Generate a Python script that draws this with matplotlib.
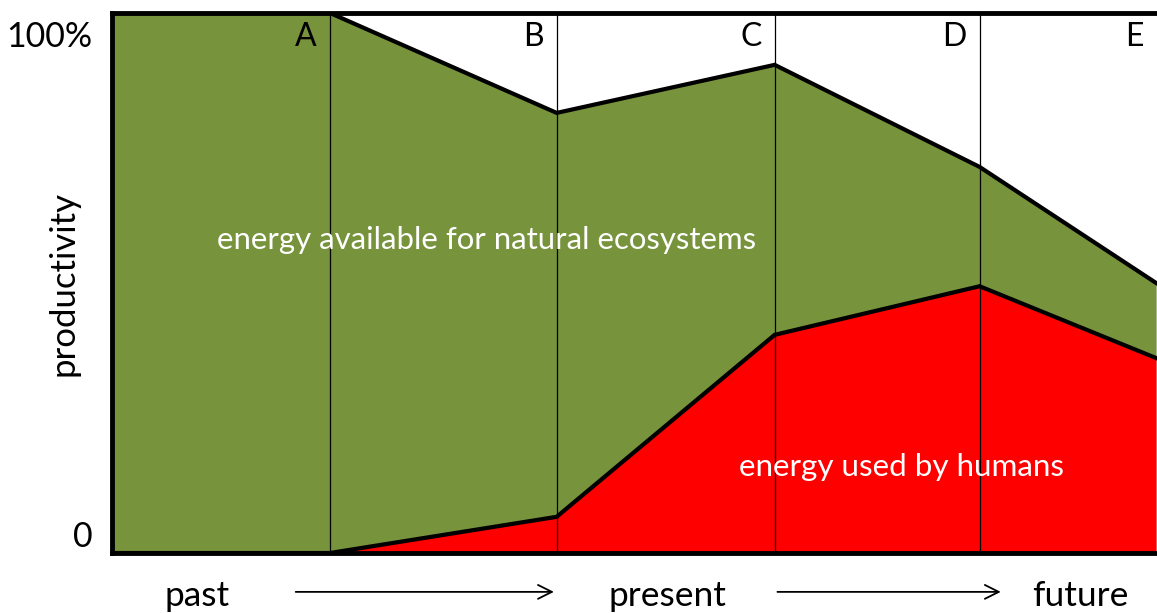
import matplotlib.pyplot as plt
import matplotlib.transforms as mtransforms
import numpy as np

plt.rcParams['font.family'] = ['Lato', 'DejaVu Sans']

# stage boundaries (A..E) on the time axis
x = np.array([0, 1, 2.04, 3.04, 3.98, 4.79])
total = np.array([100, 100, 81.5, 90.4, 71.5, 50.0])   # total productivity (%)
human = np.array([0, 0, 6.7, 40.4, 49.4, 36.1])        # used by humans (%)
stages = ['A', 'B', 'C', 'D', 'E']
stage_x = [1, 2.04, 3.04, 3.98, 4.79]
time_labels = ['past', 'present', 'future']
time_x = [0.39, 2.55, 4.44]

green = '#77933C'
red = '#FF0000'

fig = plt.figure(figsize=(11.57, 6.13), dpi=100)
ax = fig.add_axes([112/1157, 1-553/613, 1-112/1157, 540/613])

ax.fill_between(x, human, total, color=green, lw=0)
ax.fill_between(x, 0, human, color=red, lw=0)
for xv in stage_x[:-1]:
    ax.axvline(xv, color='black', lw=0.9)
ax.plot(x, total, color='black', lw=3, solid_joinstyle='miter')
ax.plot(x, human, color='black', lw=3, solid_joinstyle='miter')

ax.set_xlim(0, 4.794)
ax.set_ylim(0, 100)
ax.set_xticks([])
ax.set_yticks([0, 100])
ax.set_yticklabels(['0', '100%'], fontsize=24.5)
ax.tick_params(axis='y', length=0, pad=14)
lab0, lab100 = ax.get_yticklabels()
lab0.set_va('bottom')
lab100.set_va('top')
lab100.set_transform(lab100.get_transform() +
                     mtransforms.ScaledTranslation(0, -0.08, fig.dpi_scale_trans))
for s in ['top', 'left', 'bottom']:
    ax.spines[s].set_linewidth(3.5)
ax.spines['right'].set_visible(False)
ax.set_ylabel('productivity', fontsize=25)
ax.yaxis.set_label_coords(-0.0315, 0.5)

for lab, xv in zip(stages, stage_x):
    ax.text(xv - 0.06, 95.5, lab, ha='right', va='center', fontsize=23)

ax.text(1.72, 58, 'energy available for natural ecosystems', color='white',
        ha='center', va='center', fontsize=22.4)
ax.text(3.62, 16, 'energy used by humans', color='white',
        ha='center', va='center', fontsize=22.6)

for lab, xv in zip(time_labels, time_x):
    ax.text(xv, -7.9, lab, ha='center', va='center', fontsize=25.5, clip_on=False)

arrow = dict(arrowstyle='->', color='black', lw=1.3, mutation_scale=25)
ax.annotate('', xy=(2.04, -7.2), xytext=(0.83, -7.2), arrowprops=arrow,
            annotation_clip=False)
ax.annotate('', xy=(4.09, -7.2), xytext=(3.04, -7.2), arrowprops=arrow,
            annotation_clip=False)

fig.savefig('out.png', dpi=100)
